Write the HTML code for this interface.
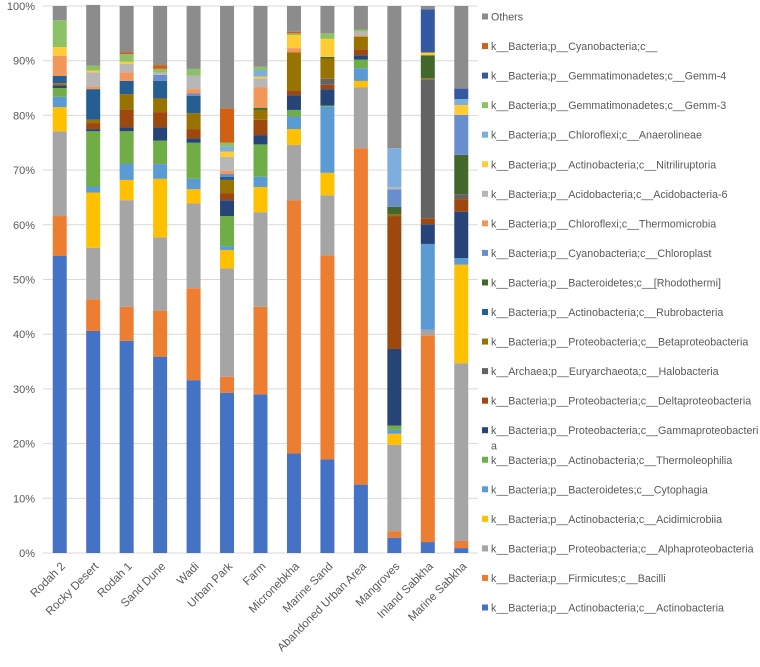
<!DOCTYPE html>
<html><head><meta charset="utf-8"><style>
html,body{margin:0;padding:0;background:#fff;}
svg{display:block;font-family:"Liberation Sans",sans-serif;}
</style></head><body>
<svg id="chart" width="760" height="667" viewBox="0 0 760 667" xmlns="http://www.w3.org/2000/svg">
<g id="grid"></g>
<g id="yaxis"></g>
<g id="bars"></g>
<g id="xaxis"></g>
<g id="legend"></g>
</svg>
<script>
const categories = ["Rodah 2","Rocky Desert","Rodah 1","Sand Dune","Wadi","Urban Park","Farm","Micronebkha","Marine Sand","Abandoned Urban Area","Mangroves","Inland Sabkha","Marine Sabkha"];
const seriesNames = [
"k__Bacteria;p__Actinobacteria;c__Actinobacteria",
"k__Bacteria;p__Firmicutes;c__Bacilli",
"k__Bacteria;p__Proteobacteria;c__Alphaproteobacteria",
"k__Bacteria;p__Actinobacteria;c__Acidimicrobiia",
"k__Bacteria;p__Bacteroidetes;c__Cytophagia",
"k__Bacteria;p__Actinobacteria;c__Thermoleophilia",
"k__Bacteria;p__Proteobacteria;c__Gammaproteobacteria",
"k__Bacteria;p__Proteobacteria;c__Deltaproteobacteria",
"k__Archaea;p__Euryarchaeota;c__Halobacteria",
"k__Bacteria;p__Proteobacteria;c__Betaproteobacteria",
"k__Bacteria;p__Actinobacteria;c__Rubrobacteria",
"k__Bacteria;p__Bacteroidetes;c__[Rhodothermi]",
"k__Bacteria;p__Cyanobacteria;c__Chloroplast",
"k__Bacteria;p__Chloroflexi;c__Thermomicrobia",
"k__Bacteria;p__Acidobacteria;c__Acidobacteria-6",
"k__Bacteria;p__Actinobacteria;c__Nitriliruptoria",
"k__Bacteria;p__Chloroflexi;c__Anaerolineae",
"k__Bacteria;p__Gemmatimonadetes;c__Gemm-3",
"k__Bacteria;p__Gemmatimonadetes;c__Gemm-4",
"k__Bacteria;p__Cyanobacteria;c__",
"Others"];
const seriesColors = ["#4472C4","#ED7D31","#A5A5A5","#FFC000","#5B9BD5","#70AD47","#264478","#9E480E","#636363","#997300","#255E91","#43682B","#698ED0","#F1975A","#B7B7B7","#FFCD33","#7CAFDD","#8CC168","#335AA1","#D26012","#8C8C8C"];
// values per category (percent), in series order
const rodah2      = [54.3,7.3,15.5,4.4,1.9,1.6,0.5,0.2,0,0.2,1.3,0,0,3.7,0,1.6,0,4.9,0,0,2.6];
const rockyDesert = [40.6,5.8,9.4,10.1,1.1,10.1,0.4,1.1,0,0.6,5.6,0,0,0.5,2.6,0.3,0,0.9,0,0,11.1];
const rodah1      = [38.8,6.2,19.5,3.7,3.0,5.9,0.7,3.3,0,2.8,2.4,0,0,1.6,1.5,0.4,0,1.4,0,0.3,8.5];
const sandDune    = [35.9,8.4,13.4,10.7,2.7,4.3,2.4,2.8,0,2.5,3.2,0,1.1,0,0.4,0,0,0.7,0,0.7,10.8];
const wadi        = [31.6,16.8,15.5,2.6,1.9,6.6,0.8,1.7,0,2.9,3.2,0,0.4,0.8,2.5,0,0,1.2,0,0,11.5];
const urbanPark   = [29.3,2.9,19.8,3.4,0.7,5.5,2.9,1.3,0,2.4,0.6,0,0.5,0.6,2.5,1.0,0.9,0.7,0,6.3,18.7];
const farm        = [29.0,16.0,17.3,4.6,1.9,5.9,1.7,2.8,0,1.8,0,0.4,0,3.7,1.7,0.3,1.2,0.6,0,0,11.1];
const micronebkha = [18.2,46.3,10.1,2.9,2.3,1.2,2.7,0.9,0,6.9,0,0,0,0.8,0,2.4,0,0.3,0,0.3,4.7];
const marineSand  = [17.1,37.3,11.0,4.1,12.1,0.2,3.0,0.8,1.1,3.7,0,0.3,0,0,0,3.3,0,1.0,0,0,5.0];
const abandoned   = [12.5,61.5,11.1,1.2,2.3,1.6,0.8,1.1,0,2.3,0,0,0,0.2,0.7,0,0,0.4,0,0,4.3];
const mangroves   = [2.8,1.2,15.8,2.0,0.7,0.8,14.0,24.3,0,0.3,0,1.4,3.2,0,0.4,0,7.1,0,0,0,26.0];
const inlandSabkha= [2.0,37.8,1.0,0,15.7,0,3.6,1.1,25.4,0.2,0,4.2,0,0,0,0.5,0,0,7.9,0,0.6];
const marineSabkha= [0.9,1.3,32.5,18.0,1.2,0,8.5,2.3,0.9,0,0,7.2,7.3,0,0,1.8,1.1,0,1.9,0,15.1];
const values = [rodah2,rockyDesert,rodah1,sandDune,wadi,urbanPark,farm,micronebkha,marineSand,abandoned,mangroves,inlandSabkha,marineSabkha];
const yTicks = [0,10,20,30,40,50,60,70,80,90,100];
const yTickLabels = ["0%","10%","20%","30%","40%","50%","60%","70%","80%","90%","100%"];

const NS="http://www.w3.org/2000/svg";
const plotL=43, plotR=478, plotT=6, plotB=553, barW=14;
const band=(plotR-plotL)/categories.length;
const yScale=v=>plotB-(v/100)*(plotB-plotT);
const xCenter=i=>plotL+band*(i+0.5);
function mk(tag,attrs,parent){const e=document.createElementNS(NS,tag);for(const k in attrs)e.setAttribute(k,attrs[k]);parent.appendChild(e);return e;}

const grid=document.getElementById('grid'), yaxis=document.getElementById('yaxis');
yTicks.forEach((t,i)=>{
  const l=mk('line',{x1:plotL,x2:plotR,y1:yScale(t),y2:yScale(t),stroke:'#d9d9d9','stroke-width':1},grid);
  
  
  const tx=mk('text',{x:35,y:yScale(t)+4,'text-anchor':'end','font-size':11,fill:'#595959'},yaxis);
  tx.textContent=yTickLabels[i];
  
  
});

const bars=document.getElementById('bars'), xaxis=document.getElementById('xaxis');
categories.forEach((c,i)=>{
  let cum=0;
  const g=mk('g',{},bars);
  
  
  values[i].forEach((v,s)=>{
    if(v<=0)return;
    const y0=yScale(cum), y1=yScale(cum+v);
    const r=mk('rect',{x:xCenter(i)-barW/2,y:y1,width:barW,height:y0-y1,fill:seriesColors[s]},g);
    
    
    cum+=v;
  });
  const cx=xCenter(i)+6, ty=567;
  const t=mk('text',{x:cx,y:ty,'text-anchor':'end','font-size':11.5,fill:'#595959',transform:`rotate(-45 ${cx} ${ty})`},xaxis);
  t.textContent=c;
  
  
});

const legend=document.getElementById('legend');
for(let k=0;k<seriesNames.length;k++){
  const s=seriesNames.length-1-k;
  const y=17+k*29.55;
  const g=mk('g',{},legend);
  
  
  mk('rect',{x:482,y:y-3.5,width:6,height:6,fill:seriesColors[s]},g);
  const t=mk('text',{x:491,y:y+3.5,'font-size':10.7,fill:'#595959'},g);
  if(s===6){
    t.textContent='k__Bacteria;p__Proteobacteria;c__Gammaproteobacteri';
    const t2=mk('text',{x:491,y:y+19,'font-size':10.7,fill:'#595959'},g);
    t2.textContent='a';
  } else t.textContent=seriesNames[s];
}
</script>
</body></html>
